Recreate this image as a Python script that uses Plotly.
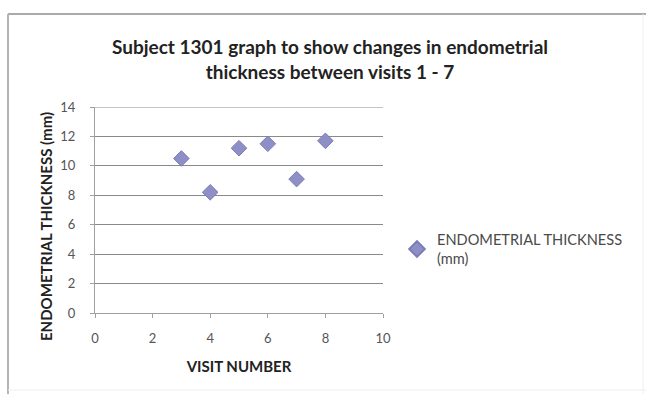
import plotly.graph_objects as go

# Endometrial thickness per visit for subject 1301
visit_number = [3, 4, 5, 6, 7, 8]
thickness_mm = [10.5, 8.2, 11.2, 11.5, 9.1, 11.7]

x_ticks = [0, 2, 4, 6, 8, 10]
y_ticks = [0, 2, 4, 6, 8, 10, 12, 14]

W, H = 646, 394
L, R, T, B = 95, 263, 107, 81
pw, ph = W - L - R, H - T - B

def px(xp):
    return (xp - L) / pw

def py(yp):
    return (H - B - yp) / ph

fig = go.Figure()
fig.add_trace(go.Scatter(
    x=visit_number, y=thickness_mm, mode="markers",
    name="ENDOMETRIAL THICKNESS<br>(mm)",
    marker=dict(symbol="diamond", size=12, color="#8f8fc8",
                line=dict(color="#7c7cb8", width=1)),
))

fig.update_layout(
    width=W, height=H, autosize=False,
    margin=dict(l=L, r=R, t=T, b=B),
    paper_bgcolor="white", plot_bgcolor="white",
    font=dict(family="Lato, Open Sans, sans-serif", color="#333333", size=13),
    title=dict(
        text="<b>Subject 1301 graph to show changes in endometrial<br>thickness between visits 1 - 7</b>",
        x=330 / W, xanchor="center", y=1 - 54 / H, yanchor="middle",
        font=dict(size=19, color="#222222"),
    ),
    showlegend=True,
    legend=dict(x=px(397), y=py(249), xanchor="left", yanchor="middle",
                font=dict(size=14.6, color="#4a4a4a"), itemwidth=30,
                itemsizing="constant",
                bgcolor="rgba(0,0,0,0)"),
    xaxis=dict(range=[0, 10], tickvals=x_ticks, showgrid=False, zeroline=False,
               showline=True, linecolor="#a0a0a0", linewidth=1,
               ticks="outside", ticklen=4, tickcolor="#a0a0a0",
               ticklabelstandoff=9,
               tickfont=dict(size=13, color="#555555"),
               title=dict(text="<b>VISIT NUMBER</b>", font=dict(size=15, color="#222222"),
                          standoff=16)),
    yaxis=dict(range=[0, 14], tickvals=y_ticks, showgrid=True, gridcolor="#8a8a8a",
               gridwidth=1, zeroline=False, showline=True, linecolor="#a0a0a0",
               ticks="outside", ticklen=4, tickcolor="#a0a0a0",
               ticklabelstandoff=12,
               tickfont=dict(size=13, color="#555555")),
)

# Vertical axis title, set a little below the plot centre
fig.add_annotation(text="<b>ENDOMETRIAL THICKNESS (mm)</b>", textangle=-90,
                   xref="paper", yref="paper", x=px(46), y=py(227),
                   xanchor="center", yanchor="middle", showarrow=False,
                   font=dict(size=15, color="#222222"))

# Top gridline at the end of the value range
fig.add_shape(type="line", xref="x", yref="y", x0=x_ticks[0], x1=x_ticks[-1],
              y0=y_ticks[-1], y1=y_ticks[-1], line=dict(color="#8a8a8a", width=1),
              layer="below")

# Chart frame: stronger top and left edges, faint right and bottom edges
fig.add_shape(type="line", xref="paper", yref="paper",
              x0=px(8), x1=px(646), y0=py(14), y1=py(14),
              line=dict(color="#aaaaaa", width=2))
fig.add_shape(type="line", xref="paper", yref="paper",
              x0=px(8), x1=px(8), y0=py(14), y1=py(394),
              line=dict(color="#b4b4b4", width=2))
fig.add_shape(type="line", xref="paper", yref="paper",
              x0=px(643), x1=px(643), y0=py(14), y1=py(394),
              line=dict(color="#eeeeee", width=1))
fig.add_shape(type="line", xref="paper", yref="paper",
              x0=px(8), x1=px(646), y0=py(390), y1=py(390),
              line=dict(color="#eeeeee", width=1))

fig.write_html("out.html")
